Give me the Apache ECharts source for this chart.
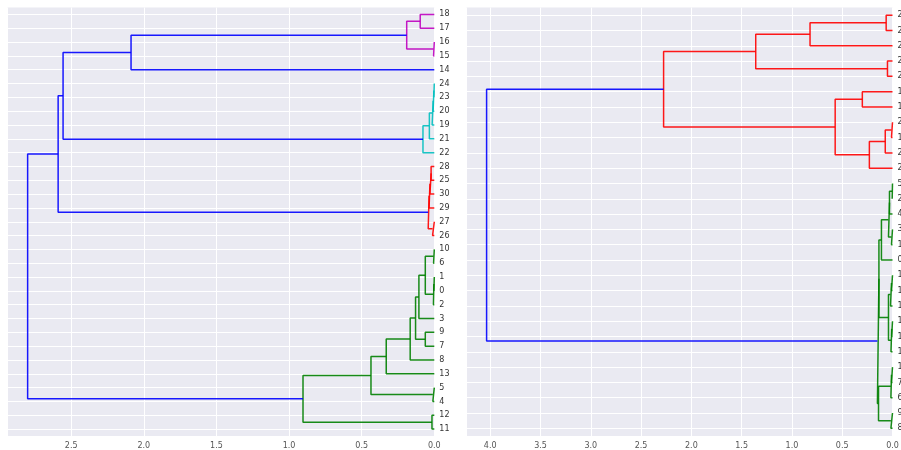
<!DOCTYPE html>
<html>
<head>
<meta charset="utf-8">
<script src="https://cdn.jsdelivr.net/npm/echarts@6/dist/echarts.min.js"></script>
<style>html,body{margin:0;padding:0;background:#fff;}#c{width:901px;height:450px;}</style>
</head>
<body>
<div id="c"></div>
<script>
// ---- Left dendrogram: leaf labels top to bottom ----
const leftLeaves = ['18','17','16','15','14','24','23','20','19','21','22','28','25','30','29','27','26','10','6','1','0','2','3','9','7','8','13','5','4','12','11'];
// links: [childA, childB, height]; child >= 0 is a leaf index, child < 0 is link number -(k+1)
const leftLinks = [
  [0,1,0.097],[2,3,0.005],[-1,-2,0.19],[-3,4,2.088],
  [5,6,0.003],[-5,7,0.008],[-6,8,0.015],[-7,9,0.034],[-8,10,0.078],
  [-4,-9,2.556],
  [11,12,0.022],[-11,13,0.03],[-12,14,0.036],[15,16,0.012],[-13,-14,0.042],
  [-10,-15,2.59],
  [17,18,0.005],[19,20,0.003],[-18,21,0.006],[-17,-19,0.062],[-20,22,0.106],
  [23,24,0.062],[-21,-22,0.129],[-23,25,0.166],[-24,26,0.331],
  [27,28,0.01],[-25,-26,0.436],[29,30,0.016],[-27,-28,0.904],
  [-16,-29,2.80]
];
const leftGroups = ['m','m','m','b','c','c','c','c','c','b','r','r','r','r','r','b','g','g','g','g','g','g','g','g','g','g','g','g','g','b'];

// ---- Right dendrogram ----
const rightLeaves = ['25','26','27','20','21','16','18','24','17','22','23','5','2','4','3','15','0','1','12','14','10','11','13','19','7','6','9','8'];
const rightLinks = [
  [0,1,0.063],[-1,2,0.82],[3,4,0.05],[-2,-3,1.36],
  [5,6,0.30],[7,8,0.01],[-6,9,0.072],[-7,10,0.23],[-5,-8,0.57],
  [-4,-9,2.276],
  [11,12,0.003],[-11,13,0.03],[14,15,0.01],[-12,-13,0.04],[-14,16,0.11],
  [17,18,0.01],[-16,19,0.02],[20,21,0.008],[-18,22,0.015],[-17,-19,0.04],
  [-15,-20,0.135],
  [23,24,0.01],[-22,25,0.016],[26,27,0.016],[-23,-24,0.139],
  [-21,-25,0.15],
  [-10,-26,4.036]
];
const rightGroups = ['r','r','r','r','r','r','r','r','r','r','g','g','g','g','g','g','g','g','g','g','g','g','g','g','g','g','b'];

const palette = {b:'#0000ff', g:'#008000', r:'#ff0000', c:'#00bfbf', m:'#bf00bf'};

function buildSeries(links, groups, axisIdx) {
  const pos = [], hgt = [];
  function P(id){ return id >= 0 ? id : pos[-id-1]; }
  function H(id){ return id >= 0 ? 0 : hgt[-id-1]; }
  const out = [];
  links.forEach((l, k) => {
    const [a, b, h] = l;
    const pa = P(a), pb = P(b);
    pos[k] = (pa + pb) / 2; hgt[k] = h;
    out.push({
      type: 'line', xAxisIndex: axisIdx, yAxisIndex: axisIdx,
      data: [[H(a), pa], [h, pa], [h, pb], [H(b), pb]],
      showSymbol: false, symbol: 'none', silent: true, animation: false,
      lineStyle: {color: palette[groups[k]], width: 1.5, opacity: 0.9}, z: 3
    });
  });
  return {series: out, maxH: Math.max(...hgt)};
}

const L = buildSeries(leftLinks, leftGroups, 0);
const R = buildSeries(rightLinks, rightGroups, 1);

function xAxis(gridIndex, maxH) {
  return {
    type: 'value', gridIndex, inverse: true, min: 0, max: maxH * 1.05, interval: 0.5,
    axisLine: {show: false}, axisTick: {show: false},
    axisLabel: {show: true, fontSize: 8, color: '#555', fontFamily: 'DejaVu Sans', margin: 6,
      showMaxLabel: false, formatter: v => v.toFixed(1)},
    splitLine: {show: true, lineStyle: {color: '#ffffff', width: 1}}
  };
}
function yAxis(gridIndex, leaves) {
  const idx = leaves.map((_, i) => i);
  return {
    type: 'value', gridIndex, inverse: true, min: -0.5, max: leaves.length - 0.5, position: 'right',
    axisLine: {show: false},
    axisTick: {show: false, customValues: idx},
    axisLabel: {show: true, customValues: idx, fontSize: 8, color: '#333', fontFamily: 'DejaVu Sans', margin: 5,
      formatter: v => leaves[Math.round(v)]},
    splitLine: {show: true, lineStyle: {color: '#ffffff', width: 1}}
  };
}

const chart = echarts.init(document.getElementById('c'), null, {renderer: 'canvas'});
chart.setOption({
  animation: false,
  backgroundColor: '#ffffff',
  grid: [
    {left: 7.3, top: 7.5, width: 427, height: 428.5, show: true, backgroundColor: '#eaeaf2', borderWidth: 0, containLabel: false, outerBoundsMode: 'none'},
    {left: 466.3, top: 7.5, width: 426.2, height: 428.5, show: true, backgroundColor: '#eaeaf2', borderWidth: 0, containLabel: false, outerBoundsMode: 'none'}
  ],
  xAxis: [xAxis(0, L.maxH), xAxis(1, R.maxH)],
  yAxis: [yAxis(0, leftLeaves), yAxis(1, rightLeaves)],
  series: L.series.concat(R.series)
});
</script>
</body>
</html>
